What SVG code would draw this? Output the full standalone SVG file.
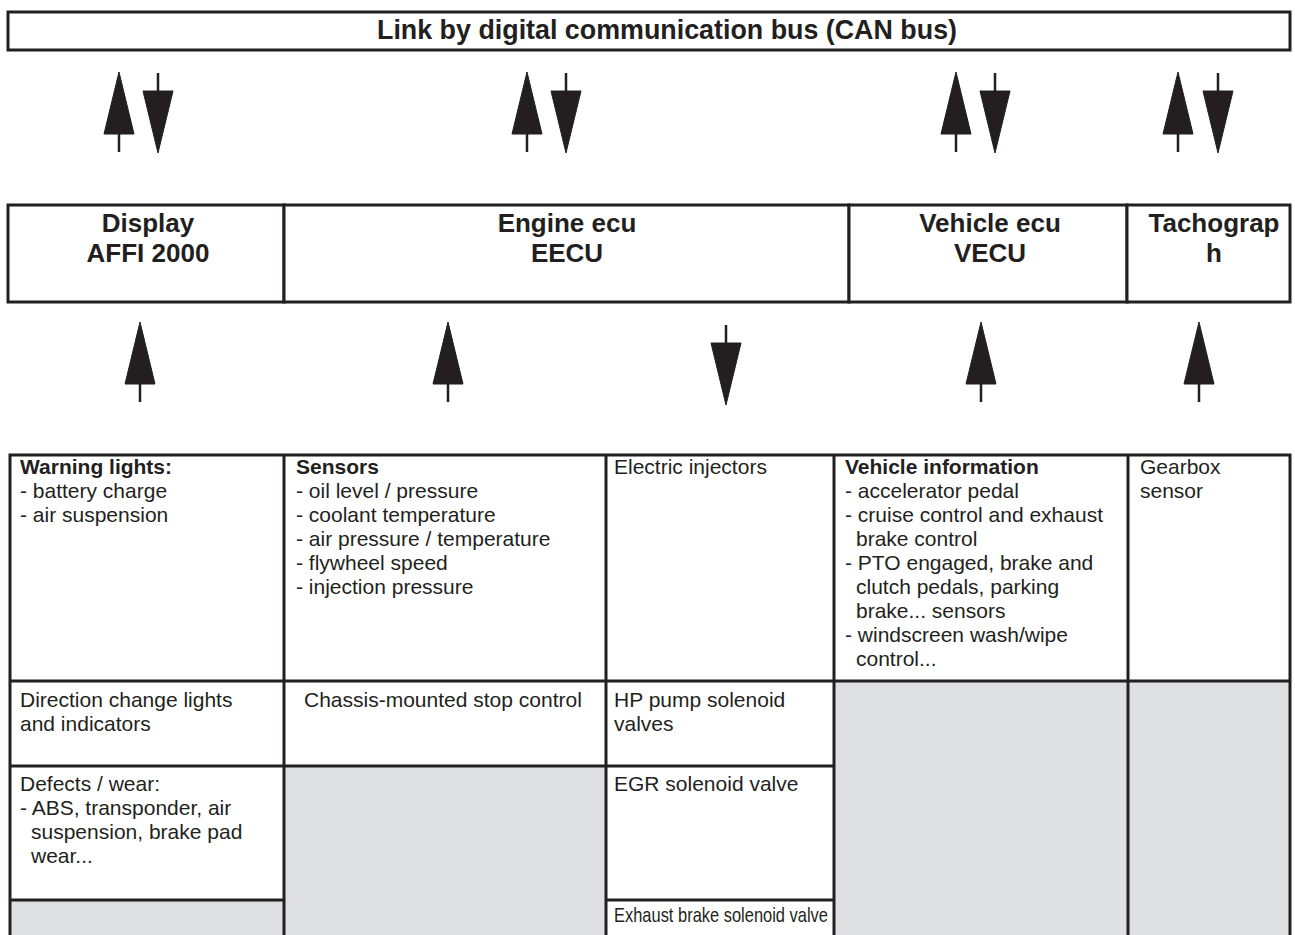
<svg xmlns="http://www.w3.org/2000/svg" width="1295" height="935" viewBox="0 0 1295 935">
<style>
.box{fill:#fff;stroke:#231f20;stroke-width:3}
.ln{stroke:#231f20;stroke-width:3;fill:none}
.grey{fill:#dedfe1;stroke:none}
.hd{font-family:"Liberation Sans",Arial,sans-serif;font-weight:bold;font-size:26px;fill:#231f20;text-anchor:middle}
.title{font-family:"Liberation Sans",Arial,sans-serif;font-weight:bold;font-size:27px;fill:#231f20;text-anchor:start}
.t{font-family:"Liberation Sans",Arial,sans-serif;font-size:21px;fill:#231f20}
.tb{font-family:"Liberation Sans",Arial,sans-serif;font-size:21px;font-weight:bold;fill:#231f20}
.ah{fill:#231f20;stroke:#231f20;stroke-width:1;stroke-linejoin:round}
.as{stroke:#231f20;stroke-width:2.5}
</style>
<defs>
<g id="arrow-up"><polygon class="ah" points="0,0 15,62 -15,62"/><line class="as" x1="0" y1="62" x2="0" y2="80"/></g>
<g id="arrow-down"><line class="as" x1="0" y1="0" x2="0" y2="18"/><polygon class="ah" points="-15,18 15,18 0,80"/></g>
</defs>
<rect width="1295" height="935" fill="#fff"/>

<g id="can-bus">
<rect class="box" x="8" y="12" width="1282" height="38"/>
<text class="title" x="377" y="39" textLength="580" lengthAdjust="spacingAndGlyphs">Link by digital communication bus (CAN bus)</text>
</g>

<g id="connectors">
<use href="#arrow-up" x="119" y="72"/>
<use href="#arrow-down" x="158" y="73"/>
<use href="#arrow-up" x="527" y="72"/>
<use href="#arrow-down" x="566" y="73"/>
<use href="#arrow-up" x="956" y="72"/>
<use href="#arrow-down" x="995" y="73"/>
<use href="#arrow-up" x="1178" y="72"/>
<use href="#arrow-down" x="1218" y="73"/>
<use href="#arrow-up" x="140" y="322"/>
<use href="#arrow-up" x="448" y="322"/>
<use href="#arrow-down" x="726" y="325"/>
<use href="#arrow-up" x="981" y="322"/>
<use href="#arrow-up" x="1199" y="322"/>
</g>

<g id="node-display">
<rect class="box" x="8" y="205" width="276" height="97"/>
<text class="hd" x="148" y="232">Display</text>
<text class="hd" x="148" y="262">AFFI 2000</text>
</g>
<g id="node-eecu">
<rect class="box" x="284" y="205" width="565" height="97"/>
<text class="hd" x="567" y="232">Engine ecu</text>
<text class="hd" x="567" y="262">EECU</text>
</g>
<g id="node-vecu">
<rect class="box" x="849" y="205" width="278" height="97"/>
<text class="hd" x="990" y="232">Vehicle ecu</text>
<text class="hd" x="990" y="262">VECU</text>
</g>
<g id="node-tacho">
<rect class="box" x="1127" y="205" width="163" height="97"/>
<text class="hd" x="1214" y="232">Tachograp</text>
<text class="hd" x="1214" y="262">h</text>
</g>

<g id="table">
<rect class="grey" x="10" y="900" width="274" height="40"/>
<rect class="grey" x="284" y="766" width="322" height="174"/>
<rect class="grey" x="834" y="681" width="456" height="259"/>
<path class="ln" d="M10,940 V455 H1290 V940 M284,455 V940 M606,455 V940 M834,455 V940 M1128,455 V940 M10,681 H1290 M10,766 H834 M10,900 H284 M606,900 H834"/>

<g id="cell-warning">
<text class="tb" x="20" y="474">Warning lights:</text>
<text class="t" x="20" y="498">- battery charge</text>
<text class="t" x="20" y="522">- air suspension</text>
</g>
<g id="cell-sensors">
<text class="tb" x="296" y="474">Sensors</text>
<text class="t" x="296" y="498">- oil level / pressure</text>
<text class="t" x="296" y="522">- coolant temperature</text>
<text class="t" x="296" y="546">- air pressure / temperature</text>
<text class="t" x="296" y="570">- flywheel speed</text>
<text class="t" x="296" y="594">- injection pressure</text>
</g>
<g id="cell-injectors">
<text class="t" x="614" y="474">Electric injectors</text>
</g>
<g id="cell-vehicle">
<text class="tb" x="845" y="474">Vehicle information</text>
<text class="t" x="845" y="498">- accelerator pedal</text>
<text class="t" x="845" y="522">- cruise control and exhaust</text>
<text class="t" x="856" y="546">brake control</text>
<text class="t" x="845" y="570">- PTO engaged, brake and</text>
<text class="t" x="856" y="594">clutch pedals, parking</text>
<text class="t" x="856" y="618">brake... sensors</text>
<text class="t" x="845" y="642">- windscreen wash/wipe</text>
<text class="t" x="856" y="666">control...</text>
</g>
<g id="cell-gearbox">
<text class="t" x="1140" y="474">Gearbox</text>
<text class="t" x="1140" y="498">sensor</text>
</g>
<g id="cell-direction">
<text class="t" x="20" y="707">Direction change lights</text>
<text class="t" x="20" y="731">and indicators</text>
</g>
<g id="cell-chassis">
<text class="t" x="304" y="707">Chassis-mounted stop control</text>
</g>
<g id="cell-hp">
<text class="t" x="614" y="707">HP pump solenoid</text>
<text class="t" x="614" y="731">valves</text>
</g>
<g id="cell-defects">
<text class="t" x="20" y="791">Defects / wear:</text>
<text class="t" x="20" y="815">- ABS, transponder, air</text>
<text class="t" x="31" y="839">suspension, brake pad</text>
<text class="t" x="31" y="863">wear...</text>
</g>
<g id="cell-egr">
<text class="t" x="614" y="791">EGR solenoid valve</text>
</g>
<g id="cell-exhaust">
<text class="t" x="614" y="922" font-size="18" textLength="214" lengthAdjust="spacingAndGlyphs">Exhaust brake solenoid valve</text>
</g>
</g>
</svg>
